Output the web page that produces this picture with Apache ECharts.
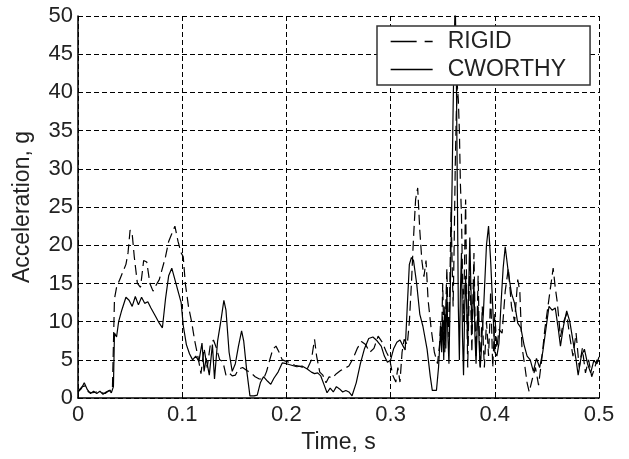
<!DOCTYPE html>
<html>
<head>
<meta charset="utf-8">
<script src="https://cdn.jsdelivr.net/npm/echarts@6/dist/echarts.min.js"></script>
<style>
html,body{margin:0;padding:0;background:#fff;}
#c{width:629px;height:459px;}
</style>
</head>
<body>
<div id="c"></div>
<script>
var seriesNames = ['RIGID', 'CWORTHY'];
var xTicks = [0, 0.1, 0.2, 0.3, 0.4, 0.5];
var yTicks = [0, 5, 10, 15, 20, 25, 30, 35, 40, 45, 50];

var rigidTime = [0.000,0.004,0.007,0.010,0.014,0.018,0.022,0.026,0.030,0.033,0.035,0.037,0.040,0.043,0.046,0.048,0.050,0.052,0.054,0.057,0.060,0.063,0.066,0.069,0.072,0.075,0.078,0.081,0.084,0.087,0.090,0.093,0.096,0.099,0.101,0.103,0.106,0.109,0.112,0.115,0.118,0.121,0.124,0.127,0.130,0.133,0.136,0.139,0.142,0.145,0.148,0.151,0.154,0.158,0.162,0.166,0.170,0.174,0.178,0.181,0.184,0.187,0.190,0.193,0.196,0.200,0.204,0.208,0.212,0.216,0.220,0.224,0.227,0.229,0.232,0.235,0.238,0.241,0.244,0.248,0.252,0.256,0.260,0.264,0.268,0.272,0.276,0.280,0.284,0.288,0.292,0.296,0.299,0.302,0.305,0.307,0.309,0.311,0.313,0.316,0.318,0.320,0.322,0.324,0.326,0.328,0.330,0.332,0.334,0.336,0.339,0.342,
  0.345,0.347,0.348,0.349,0.350,0.351,0.352,0.353,0.354,0.355,0.356,0.357,0.358,0.359,0.360,0.361,0.362,0.363,0.364,0.365,0.366,0.367,0.368,0.369,0.370,0.371,0.372,0.373,0.374,0.375,0.376,0.377,0.378,0.379,0.380,0.381,0.382,0.383,0.384,0.385,0.386,0.387,0.388,0.389,0.390,0.391,0.392,0.393,0.394,0.395,0.396,0.397,0.398,0.399,0.400,
  0.402,0.404,0.407,0.410,0.413,0.416,0.419,0.422,0.424,0.426,0.429,0.431,0.433,0.436,0.439,0.442,0.445,0.448,0.451,0.454,0.456,0.458,0.460,0.463,0.466,0.469,0.472,0.475,0.478,0.481,0.484,0.487,0.490,0.493,0.496,0.498,0.500];
var rigidAccel = [0.9,1.5,1.6,0.8,0.7,0.8,0.7,0.6,1.0,1.0,13.0,14.5,15.5,16.5,17.5,19.0,22.0,21.5,18.5,15.0,14.5,18.0,17.8,15.0,14.0,14.8,15.5,17.0,18.5,20.5,21.5,22.5,20.5,19.0,18.5,15.0,12.0,10.0,7.5,5.5,3.2,6.5,4.0,7.0,7.6,6.5,5.0,4.8,3.0,3.3,2.9,3.0,3.8,4.0,3.6,3.3,2.8,2.5,2.5,3.5,5.0,6.4,6.8,6.0,5.0,4.8,4.6,4.3,4.2,4.0,3.8,5.0,7.7,5.5,3.4,3.0,2.0,2.8,2.6,3.2,3.6,3.9,4.2,5.2,6.5,7.4,7.0,6.0,6.5,8.1,7.3,6.0,5.2,3.0,2.1,4.0,2.1,6.0,7.7,7.0,10.0,15.0,21.0,26.0,27.5,22.0,18.0,15.9,18.0,12.8,9.0,6.0,
  4.5,7.0,10.0,8.0,15.0,9.0,6.0,12.0,17.0,11.0,8.0,16.0,25.0,18.0,12.0,20.0,30.0,37.0,41.0,39.0,35.0,28.0,24.0,16.0,10.0,18.0,26.0,14.0,4.0,11.0,18.0,12.0,6.0,13.0,19.0,11.0,5.5,10.0,16.0,9.0,3.8,8.0,12.0,7.0,4.0,7.0,10.0,8.0,5.5,9.0,14.0,9.0,4.0,7.0,11.0,
  6.5,9.0,8.5,14.0,17.0,12.0,10.0,15.5,14.0,6.8,4.0,2.0,0.8,2.5,4.0,1.7,5.0,9.0,12.0,15.0,17.0,14.5,12.5,8.0,10.0,11.0,8.0,5.5,8.5,4.0,6.5,3.3,5.0,2.8,4.0,5.0,4.8];

var cworthyTime = [0.000,0.003,0.006,0.009,0.012,0.015,0.018,0.021,0.024,0.027,0.030,0.032,0.034,0.035,0.037,0.039,0.042,0.046,0.049,0.052,0.055,0.058,0.061,0.064,0.067,0.070,0.074,0.078,0.081,0.084,0.087,0.090,0.093,0.096,0.099,0.101,0.104,0.107,0.110,0.113,0.116,0.119,0.121,0.123,0.126,0.129,0.131,0.134,0.137,0.140,0.142,0.145,0.148,0.151,0.154,0.157,0.159,0.162,0.165,0.169,0.172,0.175,0.178,0.182,0.185,0.188,0.192,0.196,0.200,0.205,0.210,0.215,0.220,0.224,0.227,0.230,0.233,0.236,0.239,0.242,0.245,0.248,0.251,0.254,0.257,0.260,0.263,0.267,0.271,0.275,0.279,0.283,0.287,0.291,0.294,0.297,0.300,0.303,0.306,0.309,0.312,0.314,0.316,0.318,0.320,0.322,0.325,0.328,0.331,0.335,0.338,0.340,0.344,
  0.346,0.348,0.349,0.350,0.351,0.352,0.353,0.354,0.355,0.356,0.357,0.358,0.359,0.360,0.361,0.362,0.363,0.364,0.365,0.366,0.367,0.368,0.369,0.370,0.371,0.372,0.373,0.374,0.375,0.376,0.377,0.378,0.379,0.380,0.381,0.382,0.383,0.384,0.385,0.386,0.387,0.388,0.389,0.390,0.392,0.394,0.396,0.398,0.400,
  0.402,0.404,0.406,0.408,0.410,0.413,0.416,0.419,0.422,0.425,0.428,0.431,0.434,0.437,0.440,0.443,0.446,0.449,0.452,0.455,0.458,0.461,0.463,0.466,0.469,0.472,0.475,0.478,0.480,0.483,0.486,0.489,0.492,0.495,0.498,0.500];
var cworthyAccel = [0.8,1.2,2.0,1.1,0.6,0.9,0.6,0.9,0.5,0.8,1.0,0.7,1.5,8.5,8.0,10.0,11.5,13.2,12.8,12.0,13.3,12.2,13.2,12.4,12.6,11.8,10.8,9.8,9.2,13.0,16.0,17.0,15.5,14.0,12.5,9.5,7.0,5.8,5.0,5.5,4.8,7.2,3.5,5.2,3.0,7.0,2.5,7.5,10.0,12.8,11.5,6.0,3.5,4.5,6.8,8.8,7.5,3.5,0.3,0.3,0.4,2.0,2.8,2.2,1.8,2.6,3.4,4.6,4.5,4.3,4.1,4.2,3.8,3.4,3.2,3.3,2.9,1.8,0.7,1.3,0.8,1.5,1.2,0.8,1.0,0.8,0.3,2.0,4.5,6.5,7.8,8.0,7.5,6.8,5.5,4.7,5.0,6.5,7.3,7.6,6.8,6.3,12.0,17.5,18.4,18.0,15.0,11.0,9.4,6.4,2.9,1.0,1.0,
  4.0,9.0,6.0,10.7,5.0,12.0,6.5,14.0,8.0,4.5,12.0,20.0,28.0,38.0,46.0,52.0,44.0,28.0,12.0,5.0,14.0,19.0,8.0,3.0,11.0,16.0,12.0,7.0,15.0,21.0,15.0,9.0,12.0,15.0,8.0,4.5,9.0,12.0,7.0,4.0,6.0,9.0,11.0,14.0,20.0,22.5,18.0,12.0,6.0,
  5.5,7.2,12.4,17.0,19.8,16.4,13.7,12.4,9.8,9.2,7.0,5.5,5.0,3.5,5.2,4.0,6.0,9.0,12.0,11.5,11.8,9.0,6.8,9.5,11.4,10.0,7.5,5.0,3.0,5.5,6.4,4.5,3.3,4.9,4.5,5.4];

function pairs(t, v) { return t.map(function (x, i) { return [x, v[i]]; }); }

var chart = echarts.init(document.getElementById('c'), null, {renderer: 'canvas'});
var font = 'Liberation Sans, Arial, sans-serif';
chart.setOption({
  animation: false,
  backgroundColor: '#ffffff',
  grid: {left: 78, right: 30, top: 16, bottom: 56, containLabel: false},
  legend: {
    show: true,
    data: [
      {name: seriesNames[0], lineStyle: {type: [26, 8], width: 1.3, color: '#000'}},
      {name: seriesNames[1], lineStyle: {type: 'solid', width: 1.3, color: '#000'}}
    ],
    orient: 'vertical',
    left: 377,
    top: 26,
    padding: [4, 24, 4, 13],
    itemGap: 5,
    itemWidth: 42,
    itemHeight: 12,
    itemStyle: {opacity: 0},
    backgroundColor: '#ffffff',
    borderColor: '#333333',
    borderWidth: 1.5,
    borderRadius: 0,
    textStyle: {fontFamily: font, fontSize: 23, lineHeight: 22, color: '#222', padding: [0, 0, 0, 10]}
  },
  xAxis: {
    type: 'value', min: 0, max: 0.5, interval: 0.1,
    name: 'Time, s', nameLocation: 'middle', nameGap: 27,
    nameTextStyle: {fontFamily: font, fontSize: 23, color: '#222'},
    axisLine: {show: true, onZero: false, lineStyle: {color: '#000', width: 1.5}},
    axisTick: {show: true, inside: true, length: 4, lineStyle: {color: '#000'}},
    axisLabel: {fontFamily: font, fontSize: 22, color: '#222', margin: 6,
      formatter: function (v) { var r = Math.round(v * 10) / 10; return xTicks.indexOf(r) >= 0 ? String(r) : ''; }},
    splitLine: {show: true, lineStyle: {color: '#000', type: [5, 3], width: 1}}
  },
  yAxis: {
    type: 'value', min: 0, max: 50, interval: 5,
    name: 'Acceleration, g', nameLocation: 'middle', nameGap: 44,
    nameTextStyle: {fontFamily: font, fontSize: 23, color: '#222'},
    axisLine: {show: true, onZero: false, lineStyle: {color: '#000', width: 1.5}},
    axisTick: {show: true, inside: true, length: 4, lineStyle: {color: '#000'}},
    axisLabel: {fontFamily: font, fontSize: 22, color: '#222', margin: 5,
      formatter: function (v) { return yTicks.indexOf(v) >= 0 ? String(v) : ''; }},
    splitLine: {show: true, lineStyle: {color: '#000', type: [5, 3], width: 1}}
  },
  series: [
    {
      name: seriesNames[0], type: 'line', data: pairs(rigidTime, rigidAccel),
      showSymbol: false, symbol: 'none', clip: true,
      lineStyle: {color: '#000', width: 1.2, type: [10, 5]},
      itemStyle: {color: '#000'}
    },
    {
      name: seriesNames[1], type: 'line', data: pairs(cworthyTime, cworthyAccel),
      showSymbol: false, symbol: 'none', clip: true,
      lineStyle: {color: '#000', width: 1.2, type: 'solid'},
      itemStyle: {color: '#000'}
    }
  ]
});
</script>
</body>
</html>
